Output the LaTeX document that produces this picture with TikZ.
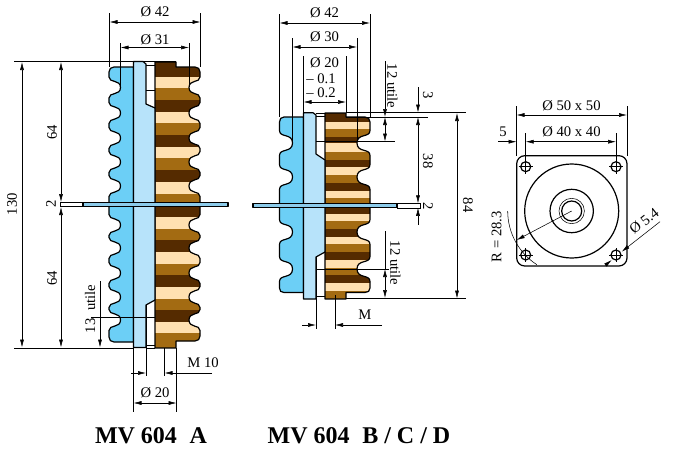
\documentclass[tikz,border=0pt]{standalone}
\usepackage{fontspec}
\setmainfont{Liberation Serif}
\usetikzlibrary{arrows.meta}
\definecolor{blueA}{HTML}{6CCFF6}
\definecolor{blueB}{HTML}{B7E3FA}
\definecolor{plateblue}{HTML}{8CCBEA}
\definecolor{darkbrown}{HTML}{552B00}
\definecolor{midbrown}{HTML}{A36B12}
\definecolor{cream}{HTML}{FFE0B0}
\tikzset{
  outline/.style={line width=0.9pt,line join=round},
  dimline/.style={line width=0.4pt},
  dimtext/.style={font=\fontsize{11}{12}\selectfont,inner sep=0pt},
  titletext/.style={font=\fontsize{18}{20}\selectfont\bfseries,inner sep=0pt},
}
% outer x, inner x, half height, list of notch centres
\newcommand{\notches}[4]{\foreach \y in {#4} {-- (#1,\y-#3) .. controls (#1,\y-#3*0.4) and (#2,\y-#3*0.8) .. (#2,\y) .. controls (#2,\y+#3*0.8) and (#1,\y+#3*0.4) .. (#1,\y+#3)}}
\newcommand{\blueApath}{(133.5,67) -- (114,67) .. controls (111,67) and (109,69) .. (109,72) \notches{109}{120.5}{10.5}{87.5,113,138,162,186,225,248,273,297,320} -- (109,337) .. controls (109,340) and (111,342) .. (114,342) -- (133.5,342) -- cycle}
\newcommand{\brownApath}{(155,62) -- (176,62) -- (176,67) -- (195,67) .. controls (198,67) and (200,69) .. (200,72) \notches{200}{189}{10.5}{87.5,113,138,162,186,225,248,273,297,320} -- (200,336) .. controls (200,339) and (198,341) .. (195,341) -- (176,341) -- (176,348) -- (155,348) -- cycle}
\newcommand{\blueBpath}{(303.5,117) -- (284,117) .. controls (281,117) and (279.5,119) .. (279.5,122) \notches{279.5}{292.5}{12.5}{143,177,232,269} -- (279.5,288) .. controls (279.5,291) and (281,292.5) .. (284,292.5) -- (303.5,292.5) -- cycle}
\newcommand{\brownBpath}{(325,113) -- (346,113) -- (346,117) -- (365,117) .. controls (368,117) and (370,119) .. (370,122) \notches{370}{357}{12.5}{143,177,232,269} -- (370,288) .. controls (370,291) and (368,292.5) .. (365,292.5) -- (346,292.5) -- (346,299) -- (325,299) -- cycle}
\begin{document}
\begin{tikzpicture}[x=0.75pt,y=-0.75pt,>={Latex[length=6pt,width=3pt]}]
\useasboundingbox (0,0) rectangle (683,450);
% MV 604 A
\fill[blueA] \blueApath;
\begin{scope}
\clip \brownApath;
\foreach \a/\b/\c in {62/77/darkbrown,77/88/cream,88/100/midbrown,100/112/darkbrown,112/123/cream,123/135/midbrown,135/147/darkbrown,147/158/cream,158/170/midbrown,170/182/darkbrown,182/194/cream,194/207/midbrown,207/217/darkbrown,217/229/cream,229/240/midbrown,240/252/darkbrown,252/264/cream,264/275/midbrown,275/287/darkbrown,287/299/cream,299/310/midbrown,310/322/darkbrown,322/333/cream,333/348/midbrown}
  \fill[\c] (150,\a) rectangle (205,\b);
\end{scope}
\draw[outline] \blueApath;
\draw[outline] \brownApath;
\draw[outline,fill=blueB] (133.5,61.5) -- (143,61.5) -- (146,64) -- (146,104) -- (155,108) -- (155,300) -- (146,305) -- (146,347.5) -- (133.5,347.5) -- cycle;
\draw[dimline] (146,65) -- (155,65) (146,90.5) -- (155,90.5) (146,345) -- (155,345) (146,348) -- (155,348);
\draw[dimline,fill=white] (60,202.3) rectangle (83,206.7);
\draw[outline,fill=plateblue] (83,202.3) rectangle (228,206.7);
% dimensions A
\draw[dimline] (109.5,13) -- (109.5,67) (200.5,13) -- (200.5,67);
\draw[dimline,<->] (109.5,22) -- (200.5,22);
\node[dimtext] (d42a) at (155,12) {Ø 42};
\draw[dimline] (120.5,43) -- (120.5,87) (189,43) -- (189,87);
\draw[dimline,<->] (120.5,47.5) -- (189,47.5);
\node[dimtext] (d31a) at (155,39.5) {Ø 31};
\draw[dimline] (14,61.5) -- (176,61.5) (14,348) -- (134,348);
\draw[dimline,<->] (22,62) -- (22,347.5);
\node[dimtext,rotate=90] (h130) at (12,204) {130};
\draw[dimline,<->] (61,62) -- (61,202);
\draw[dimline,<->] (61,207) -- (61,347.5);
\node[dimtext,rotate=90] (h64u) at (52,132) {64};
\node[dimtext,rotate=90] (h64l) at (52,278) {64};
\node[dimtext,rotate=90] (h2a) at (51,204) {2};
\draw[dimline] (91,317.5) -- (155,317.5);
\draw[dimline,->] (100,281) -- (100,347.5);
\node[dimtext,rotate=90] (u13) at (90,309) {13\hspace{3pt} utile};
\draw[dimline] (133.5,348) -- (133.5,412) (176.5,348) -- (176.5,412) (146,305) -- (146,376) (164.5,348) -- (164.5,376);
\draw[dimline,->] (131,373) -- (146,373);
\draw[dimline,->] (212,373) -- (164.5,373);
\node[dimtext] (m10) at (203,363) {M 10};
\draw[dimline,<->] (133.5,403) -- (176.5,403);
\node[dimtext] (d20a) at (155,393) {Ø 20};
\node[titletext] (titlea) at (151,436) {MV 604\hspace{5pt} A};
% MV 604 B/C/D
\fill[blueA] \blueBpath;
\begin{scope}
\clip \brownBpath;
\foreach \a/\b/\c in {113/122/darkbrown,122/129/cream,129/137/midbrown,137/143/darkbrown,143/152/cream,152/160/midbrown,160/167/darkbrown,167/175/cream,175/183/midbrown,183/191/darkbrown,191/198/cream,198/208/midbrown,208/214/darkbrown,214/221/cream,221/229/midbrown,229/237/darkbrown,237/244/cream,244/252/midbrown,252/260/darkbrown,260/268/cream,268/275/midbrown,275/283/darkbrown,283/291/cream,291/299/midbrown}
  \fill[\c] (320,\a) rectangle (375,\b);
\end{scope}
\draw[outline] \blueBpath;
\draw[outline] \brownBpath;
\draw[outline,fill=blueB] (303.5,112.7) -- (313,112.7) -- (316,115) -- (316,154) -- (325,160) -- (325,252) -- (316,257) -- (316,299) -- (303.5,299) -- cycle;
\draw[dimline] (316,116) -- (325,116) (316,113) -- (325,113) (316,296) -- (325,296);
\draw[dimline,fill=white] (397,203.3) rectangle (420,207.8);
\draw[outline,fill=plateblue] (253,203.3) rectangle (397,207.8);
% dimensions B
\draw[dimline] (279.5,14) -- (279.5,117) (370,14) -- (370,117);
\draw[dimline,<->] (279.5,23) -- (370,23);
\node[dimtext] (d42b) at (324.5,13) {Ø 42};
\draw[dimline] (292.5,38) -- (292.5,141) (357,38) -- (357,141);
\draw[dimline,<->] (292.5,47) -- (357,47);
\node[dimtext] (d30b) at (324.5,37) {Ø 30};
\draw[dimline] (303.5,56) -- (303.5,113) (346,56) -- (346,113);
\draw[dimline,<->] (303.5,102) -- (346,102);
\node[dimtext] (d20b) at (324.5,63) {Ø 20};
\node[dimtext] (tol1) at (321,79) {– 0.1};
\node[dimtext] (tol2) at (321,93) {– 0.2};
\draw[dimline] (346,112.5) -- (466,112.5) (346,298.7) -- (466,298.7) (346,117) -- (428,117) (316,141.5) -- (395,141.5);
\draw[dimline,->] (385,61) -- (385,117);
\draw[dimline,<->] (385,117) -- (385,141.5);
\node[dimtext,rotate=-90] (u12t) at (392.5,86) {12 utile};
\draw[dimline,->] (418,87) -- (418,112.5);
\draw[dimline,<->] (418,117) -- (418,203.3);
\draw[dimline,<-] (418,207.8) -- (418,225);
\node[dimtext,rotate=-90] (h3) at (428,95) {3};
\node[dimtext,rotate=-90] (h38) at (428,161) {38};
\node[dimtext,rotate=-90] (h2b) at (428,206) {2};
\draw[dimline,<->] (457,113) -- (457,298.5);
\node[dimtext,rotate=-90] (h84) at (468,205) {84};
\draw[dimline] (316,269) -- (389,269) (385,231) -- (385,269);
\draw[dimline,<->] (385,269) -- (385,298);
\node[dimtext,rotate=-90] (u12b) at (395.5,263) {12 utile};
\draw[dimline] (316,257) -- (316,329) (335,295) -- (335,329);
\draw[dimline,->] (302,325) -- (316,325);
\draw[dimline,->] (382,325) -- (335,325);
\node[dimtext] (mb) at (365,315) {M};
\node[titletext] (titleb) at (359,436) {MV 604\hspace{5pt} B / C / D};
% end view
\draw[outline,rounded corners=6pt] (516.7,155.7) rectangle (627,266);
\draw[outline] (571.7,211) circle (47);
\draw[outline] (571.7,211) circle (21.7);
\draw[dimline] (571.7,211) circle (12.7);
\draw[outline] (571.7,211) circle (10);
\foreach \hx/\hy in {525.7/166.7,616/166.7,525.7/255,616/255} {
  \draw[outline] (\hx,\hy) circle (5);
  \draw[dimline] (\hx-7,\hy) -- (\hx+7,\hy) (\hx,\hy-7) -- (\hx,\hy+7);
}
\draw[dimline] (516.5,106) -- (516.5,156) (627,106) -- (627,156);
\draw[dimline,<->] (516.5,115) -- (627,115);
\node[dimtext] (d50) at (571.5,106) {Ø 50 x 50};
\draw[dimline] (525.7,133) -- (525.7,166) (616,133) -- (616,166);
\draw[dimline,<->] (525.7,141.7) -- (616,141.7);
\draw[dimline,->] (498,141.7) -- (516.5,141.7);
\node[dimtext] (d40) at (571.5,132) {Ø 40 x 40};
\node[dimtext] (h5) at (503,132) {5};
\draw[dimline,->] (571.7,211) -- (516.7,240);
\draw[dimline] (507.7,211) arc (180:123:64);
\node[dimtext,rotate=90] (r283) at (496.7,236.7) {R = 28.3};
\draw[dimline,->] (660,221.7) -- (621.7,251.7);
\draw[dimline,->] (605,265.5) -- (611.7,260);
\node[dimtext,rotate=38] (d54) at (644,221) {Ø 5.4};
\end{tikzpicture}
\end{document}
